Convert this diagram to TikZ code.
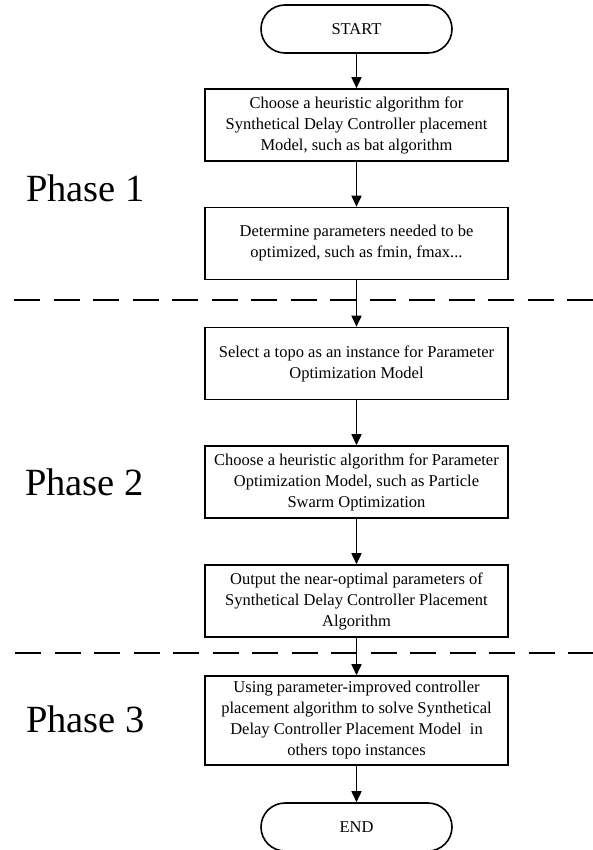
\documentclass[tikz,border=0pt]{standalone}
\usepackage{fontspec}
\setmainfont{Liberation Serif}
\usetikzlibrary{arrows.meta}

\tikzset{
    stepbox/.style={draw, line width=1.6pt, minimum height=72pt, minimum width=303pt, inner xsep=2pt, align=center, font=\fontsize{16.5pt}{21pt}\selectfont},
    termbox/.style={draw, line width=1.6pt, rounded corners=24pt, minimum width=191pt, minimum height=48pt, font=\fontsize{16.5pt}{21pt}\selectfont},
    flow/.style={line width=1.6pt, -{Triangle[length=11pt,width=10pt]}},
    phase/.style={anchor=base west, inner sep=0pt, font=\fontsize{38.5pt}{44pt}\selectfont},
    sep/.style={line width=1.5pt, dash pattern=on 26pt off 13.5pt}
}

\begin{document}
\begin{tikzpicture}[x=1pt,y=-1pt]
        \useasboundingbox (0,0) rectangle (593,850);
        \node[termbox] (start) at (356.5,29) {START};
        \node[stepbox] (heur) at (356.5,125) {Choose a heuristic algorithm for\\Synthetical Delay Controller placement\\Model, such as bat algorithm};
        \node[stepbox] (param) at (356.5,243.5) {Determine parameters needed to be\\optimized, such as fmin, fmax...};
        \node[stepbox] (topo) at (356.5,363.5) {Select a topo as an instance for Parameter\\Optimization Model};
        \node[stepbox] (pso) at (356.5,482) {Choose a heuristic algorithm for Parameter\\Optimization Model, such as Particle\\Swarm Optimization};
        \node[stepbox] (output) at (356.5,601) {Output the near-optimal parameters of\\Synthetical Delay Controller Placement\\Algorithm};
        \node[stepbox, minimum height=89pt] (solve) at (356.5,720.5) {Using parameter-improved controller\\placement algorithm to solve Synthetical\\Delay Controller Placement Model\ \ in\\others topo instances};
        \node[termbox] (end) at (356.5,827) {END};
        \draw[flow] (start) -- (heur);
        \draw[flow] (heur) -- (param);
        \draw[flow] (param) -- (topo);
        \draw[flow] (topo) -- (pso);
        \draw[flow] (pso) -- (output);
        \draw[flow] (output) -- (solve);
        \draw[flow] (solve) -- (end);
        \draw[sep] (14,300) -- (593,300);
        \draw[sep] (15,653) -- (593,653);
        \node[phase] (ph1) at (26,202) {Phase 1};
        \node[phase] (ph2) at (25,495) {Phase 2};
        \node[phase] (ph3) at (26,732) {Phase 3};
    \end{tikzpicture}
\end{document}
